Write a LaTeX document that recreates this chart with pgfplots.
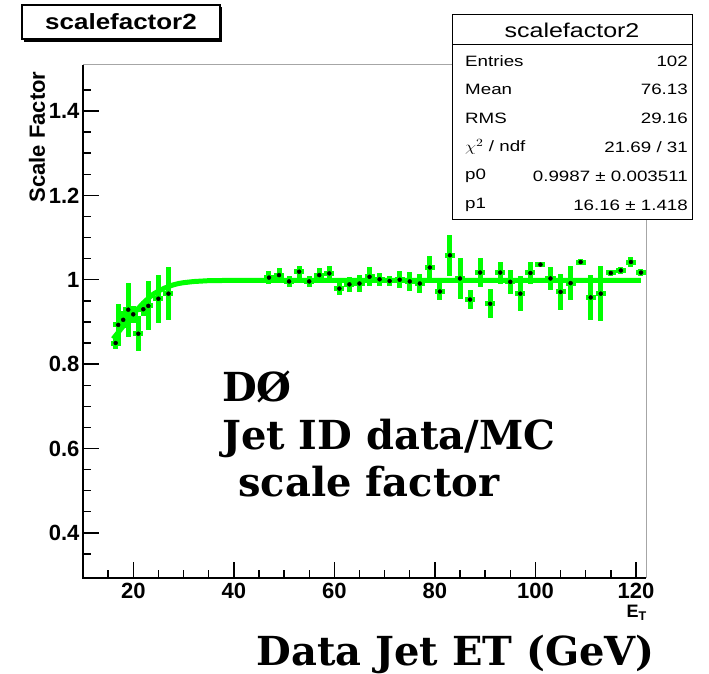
\documentclass[border=0pt]{standalone}
\usepackage{pgfplots}
\pgfplotsset{compat=1.18}
\usepackage{pgfplotstable}
\usepackage{fontspec}
\usepackage{graphicx}
\setmainfont{Liberation Sans}
\newfontfamily\serifbig{DejaVu Serif}

\definecolor{rootgreen}{RGB}{0,255,0}
\newcommand\wide[1]{\scalebox{1.25}[1]{#1}}

% data/MC jet ID scale factor per 2 GeV bin of jet E_T
\pgfplotstableread{
x     y      ex  ey
16.5  0.850  1   0.015
17    0.893  1   0.050
18    0.905  1   0.020
19    0.929  1   0.064
20    0.918  1   0.020
21    0.872  1   0.042
22    0.930  1   0.015
23    0.938  1   0.058
25    0.955  1   0.057
27    0.967  1   0.062
47    1.005  1   0.016
49    1.011  1   0.016
51    0.996  1   0.014
53    1.019  1   0.014
55    0.996  1   0.014
57    1.011  1   0.016
59    1.015  1   0.018
61    0.979  1   0.016
63    0.989  1   0.018
65    0.991  1   0.020
67    1.007  1   0.022
69    1.001  1   0.016
71    0.997  1   0.012
73    1.000  1   0.020
75    0.996  1   0.022
77    0.991  1   0.022
79    1.029  1   0.028
81    0.972  1   0.021
83    1.058  1   0.049
85    1.003  1   0.049
87    0.953  1   0.023
89    1.017  1   0.034
91    0.943  1   0.034
93    1.017  1   0.026
95    0.995  1   0.028
97    0.967  1   0.041
99    1.016  1   0.026
101   1.036  1   0.005
103   1.003  1   0.028
105   0.971  1   0.043
107   0.992  1   0.040
109   1.042  1   0.006
111   0.958  1   0.053
113   0.967  1   0.065
115   1.016  1   0.008
117   1.022  1   0.008
119   1.042  1   0.011
121   1.017  1   0.008
}\sfdata

% fitted turn-on curve (p0 = 0.9987, p1 = 16.16)
\pgfplotstableread{
x    y
16   0.860
17   0.875
18   0.890
19   0.905
20   0.918
21   0.932
22   0.945
23   0.956
24   0.966
25   0.973
26   0.979
27   0.984
28   0.988
29   0.991
30   0.993
32   0.9957
35   0.9978
40   0.9985
50   0.9987
121  0.9987
}\fitcurve

\begin{document}
\begin{tikzpicture}
\useasboundingbox (-83pt,-96pt) rectangle (626pt,578pt);
\begin{axis}[
  at={(0pt,0pt)}, anchor=south west,
  scale only axis, width=563pt, height=513pt,
  xmin=10, xmax=122, ymin=0.293, ymax=1.509,
  axis line style={draw=none},
  tick align=inside, tick pos=left,
  xtick={20,40,60,80,100,120},
  ytick={0.4,0.6,0.8,1,1.2,1.4},
  minor xtick={15,20,...,120},
  minor ytick={0.35,0.4,0.45,0.5,0.55,0.6,0.65,0.7,0.75,0.8,0.85,0.9,0.95,1,1.05,1.1,1.15,1.2,1.25,1.3,1.35,1.4,1.45},
  major tick length=16pt, minor tick length=8pt,
  tick style={black, line width=1.4pt},
  /pgf/number format/assume math mode=true,
  ticklabel style={font=\fontsize{22}{22}\selectfont\bfseries},
  xticklabel style={yshift=-2pt},
  clip=false,
]
\addplot[only marks, mark=none, forget plot,
  error bars/.cd, x dir=both, x explicit, y dir=both, y explicit,
  error mark=none, error bar style={rootgreen, line width=5pt}]
  table[x=x, y=y, x error=ex, y error=ey] {\sfdata};
\addplot[rootgreen, line width=5pt, no marks] table[x=x, y=y] {\fitcurve};
\addplot[only marks, mark=*, mark size=1.1pt, black] table[x=x, y=y] {\sfdata};
\draw[gray!70, line width=1pt] (rel axis cs:0,1) -- (rel axis cs:1,1) -- (rel axis cs:1,0);
\draw[black, line width=1.8pt] (rel axis cs:0,1) -- (rel axis cs:0,0) -- (rel axis cs:1,0);
\end{axis}

% axis titles
\node[rotate=90, font=\fontsize{22}{22}\selectfont\bfseries] at (-46pt,441pt) {Scale Factor};
\node[anchor=north east, font=\fontsize{18}{18}\selectfont\bfseries, inner sep=0pt] at (564pt,-27pt) {E\textsubscript{T}};

% histogram title box
\fill[black] (-59pt,536pt) rectangle (139pt,571pt);
\draw[black, line width=1.5pt, fill=white] (-61pt,539pt) rectangle (137pt,573pt);
\node[font=\fontsize{22}{22}\selectfont\bfseries] at (38pt,556pt) {\scalebox{1.18}[1]{scalefactor2}};

% statistics box
\draw[black, line width=1pt, fill=white] (369pt,358pt) rectangle (609pt,563pt);
\draw[black, line width=1pt] (369pt,533pt) -- (609pt,533pt);
\node[font=\fontsize{20}{20}\selectfont] at (489pt,548pt) {\wide{scalefactor2}};
\begin{scope}[every node/.style={font=\fontsize{15}{15}\selectfont, inner sep=0pt}]
\node[anchor=west] at (382pt,517pt) {\wide{Entries}};
\node[anchor=east] at (605pt,517pt) {\wide{102}};
\node[anchor=west] at (382pt,489pt) {\wide{Mean}};
\node[anchor=east] at (605pt,489pt) {\wide{76.13}};
\node[anchor=west] at (382pt,460pt) {\wide{RMS}};
\node[anchor=east] at (605pt,460pt) {\wide{29.16}};
\node[anchor=west] at (382pt,431pt) {\wide{$\chi^{2}$ / ndf}};
\node[anchor=east] at (605pt,431pt) {\wide{21.69 / 31}};
\node[anchor=west] at (382pt,402pt) {\wide{p0}};
\node[anchor=east] at (605pt,402pt) {\wide{0.9987 ± 0.003511}};
\node[anchor=west] at (382pt,373pt) {\wide{p1}};
\node[anchor=east] at (605pt,373pt) {\wide{16.16 ± 1.418}};
\end{scope}

% annotation
\begin{scope}[every node/.style={font=\serifbig\bfseries\fontsize{40}{48}\selectfont, inner sep=0pt, anchor=base west}]
\node at (139pt,176pt) {DØ};
\node at (139pt,128pt) {Jet ID data/MC};
\node at (155pt,81pt) {scale factor};
\node[anchor=base east] at (572pt,-87pt) {Data Jet ET (GeV)};
\end{scope}
\end{tikzpicture}
\end{document}
